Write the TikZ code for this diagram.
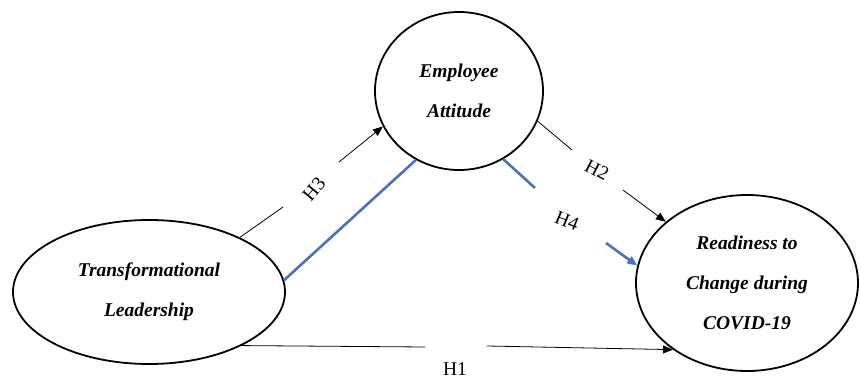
\documentclass[tikz,border=0pt]{standalone}
\usepackage{fontspec}
\setmainfont{Liberation Serif}
\usetikzlibrary{shapes.geometric,arrows.meta}
\definecolor{linkblue}{RGB}{68,114,196}
\begin{document}
\begin{tikzpicture}[x=1pt,y=-1pt,
  construct/.style={draw, line width=1.8pt, ellipse, inner sep=0pt, align=center,
    font=\fontsize{19.5}{40}\selectfont\bfseries\itshape},
  link/.style={line width=0.8pt},
  tip/.style={-{Triangle[length=10pt,width=8pt]}},
  bluelink/.style={linkblue, line width=2.6pt},
  hyp/.style={font=\fontsize{19.5}{22}\selectfont, inner sep=0pt}]
\useasboundingbox (0,0) rectangle (860,379);
\node[construct, minimum width=272pt, minimum height=144pt] (T) at (149,292) {Transformational\\Leadership};
\node[construct, minimum width=168pt, minimum height=158pt] (E) at (459,91) {Employee\\Attitude};
\node[construct, minimum width=222pt, minimum height=176pt] (R) at (747,283) {Readiness to\\Change during\\COVID-19};

% H3
\coordinate (h3a) at (283,207);
\coordinate (h3b) at (339,162);
\draw[link] (T.31.2) -- (h3a);
\draw[link,tip] (h3b) -- (E.205.6);
\node[hyp, rotate=50] (H3) at (314,189) {H3};

% blue mediation line
\draw[bluelink] (T.5.1) -- (E.238.3);

% H2
\coordinate (h2a) at (572,150);
\coordinate (h2b) at (623,190);
\draw[link] (E.-21.4) -- (h2a);
\draw[link,tip] (h2b) -- (R.143.7);
\node[hyp, rotate=-27] (H2) at (597,170) {H2};

% H4
\coordinate (h4a) at (535,188);
\coordinate (h4b) at (606,243);
\draw[bluelink] (E.-57.4) -- (h4a);
\draw[bluelink,tip] (h4b) -- (R.171.7);
\node[hyp, rotate=-22] (H4) at (567,221) {H4};

% H1
\coordinate (h1a) at (425,347);
\coordinate (h1b) at (487,346);
\draw[link] (T.-30.2) -- (h1a);
\draw[link,tip] (h1b) -- (R.222);
\node[hyp] (H1) at (455,369) {H1};
\end{tikzpicture}
\end{document}
